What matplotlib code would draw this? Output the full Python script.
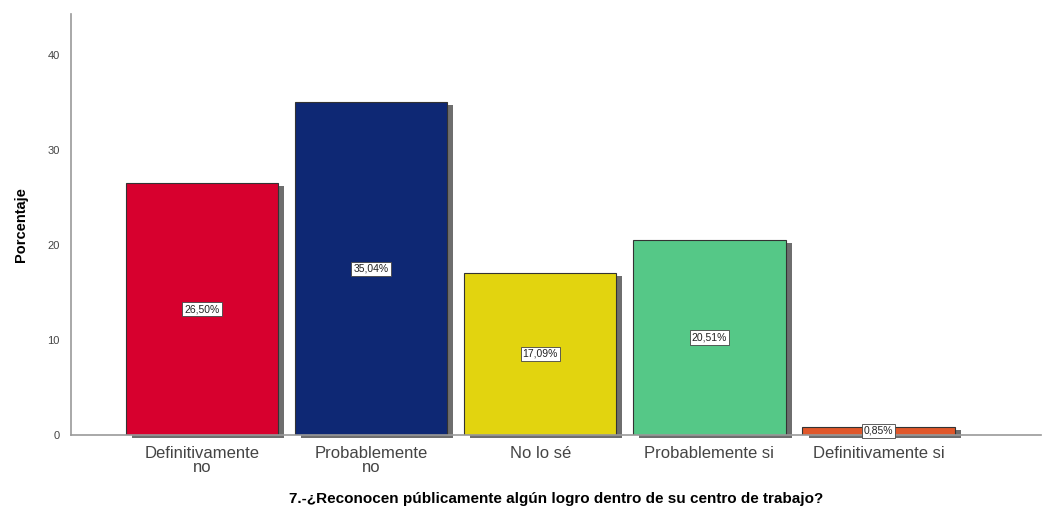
import numpy as np
import matplotlib.pyplot as plt

categorias = ['Definitivamente\nno', 'Probablemente\nno', 'No lo sé', 'Probablemente si', 'Definitivamente si']
porcentajes = [26.50, 35.04, 17.09, 20.51, 0.85]
etiquetas = ['26,50%', '35,04%', '17,09%', '20,51%', '0,85%']
colores = ['#d7002e', '#0e2874', '#e2d40f', '#55c887', '#e0572a']

plt.rcParams['font.family'] = ['Liberation Sans', 'DejaVu Sans']

fig = plt.figure(figsize=(10.43, 5.08), dpi=100)
ax = fig.add_axes([0.068, 0.144, 0.93, 0.829])

x = np.arange(len(categorias))
w = 0.9
# sombra de cada barra
ax.bar(x + 0.036, porcentajes, width=w, bottom=-0.3, color='#6e6e6e', zorder=1, clip_on=False)
ax.bar(x, porcentajes, width=w, color=colores, edgecolor='#333333', linewidth=0.8, zorder=2)

for xi, v, t in zip(x, porcentajes, etiquetas):
    ax.text(xi, v / 2, t, ha='center', va='center', fontsize=7.5, color='#222222', zorder=4,
            bbox=dict(boxstyle='square,pad=0.2', facecolor='white', edgecolor='#444444', linewidth=0.6))

ax.set_xlim(-0.775, 4.96)
ax.set_ylim(0, 44.4)
ax.set_yticks([0, 10, 20, 30, 40])
ax.set_xticks(x)
ax.set_xticklabels(categorias, fontsize=12, color='#444444', linespacing=0.95)
ax.tick_params(axis='y', labelsize=8, colors='#444444', length=0, pad=8)
ax.tick_params(axis='x', length=0, pad=8)

for s in ['top', 'right']:
    ax.spines[s].set_visible(False)
ax.spines['left'].set_color('#999999')
ax.spines['bottom'].set_color('#999999')
ax.spines['left'].set_linewidth(1.2)
ax.spines['bottom'].set_linewidth(1.2)
ax.spines['bottom'].set_zorder(3)

ax.set_ylabel('Porcentaje', fontsize=10.5, fontweight='bold', labelpad=14)
ax.set_xlabel('7.-¿Reconocen públicamente algún logro dentro de su centro de trabajo?',
              fontsize=11, fontweight='bold', labelpad=12)

fig.savefig('out.png', dpi=100)
